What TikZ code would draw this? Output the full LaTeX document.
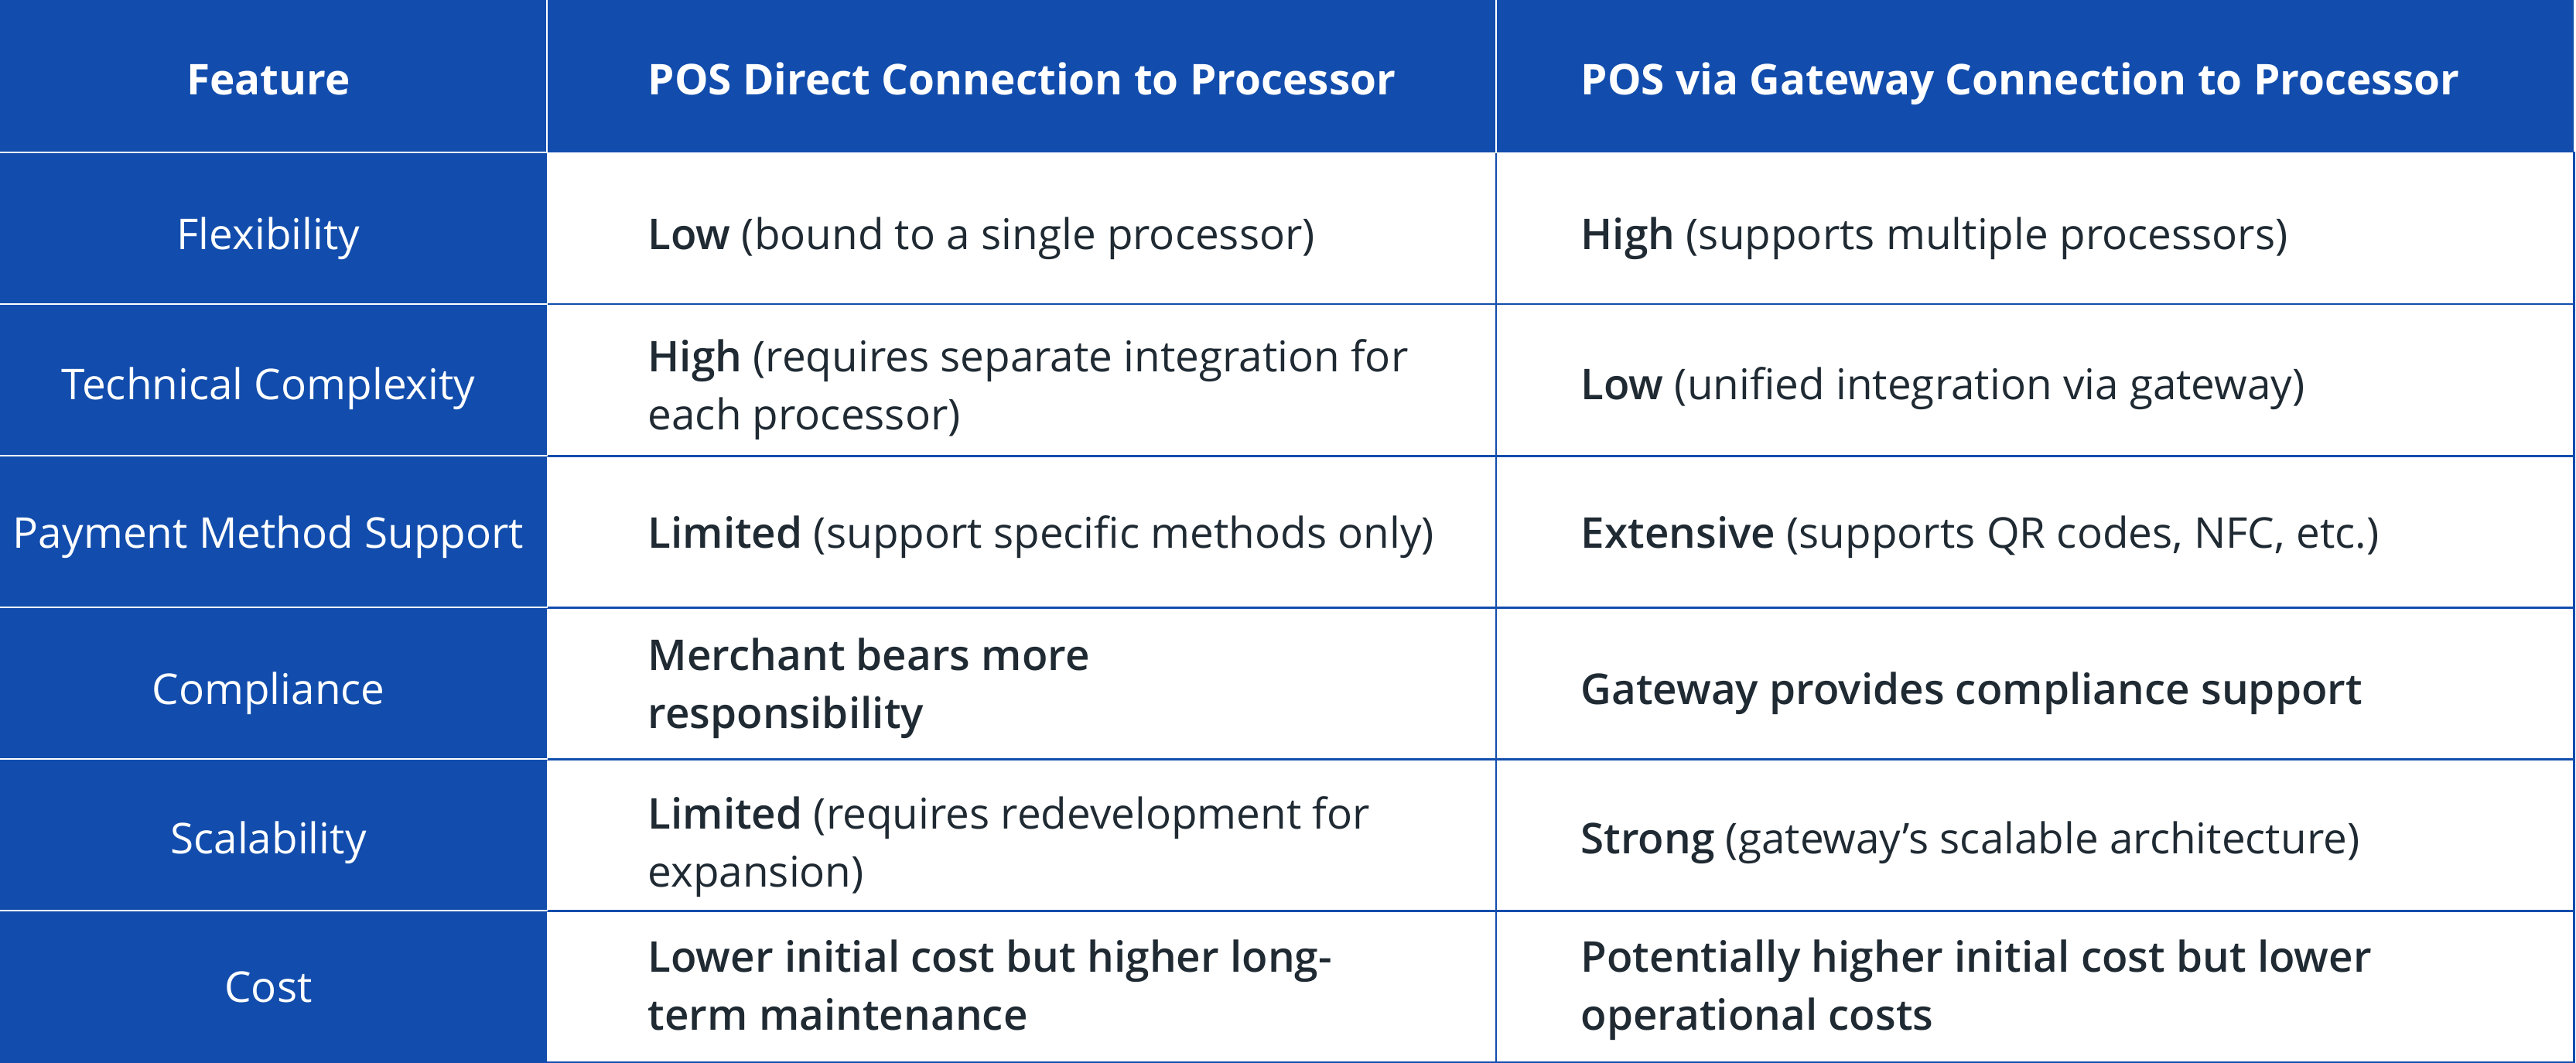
\documentclass[tikz,border=0pt]{standalone}
\usepackage{fontspec}
\setmainfont{Open Sans}
\newfontface\semiface{Open Sans Semibold}
\newcommand\semi[1]{{\semiface #1}}
\definecolor{tblblue}{HTML}{124DAD}
\definecolor{txtdark}{HTML}{1F2A33}
\newcommand\tblfont{\fontsize{15.6}{21.3}\selectfont}
\tikzset{
  headtxt/.style={text=white,font=\tblfont\bfseries,inner sep=0pt,anchor=base west},
  feattxt/.style={text=white,font=\tblfont,inner sep=0pt,anchor=base},
  celltxt/.style={text=txtdark,font=\tblfont,inner sep=0pt,anchor=base west,align=left},
}
\begin{document}
\begin{tikzpicture}[line cap=rect]
	\def\W{33.27} \def\H{13.74}
	\def\hh{1.97} \def\rh{1.96}
	\def\ca{7.07} \def\cb{19.34}
	\def\xa{8.37} \def\xb{20.43}
	\useasboundingbox (0,0) rectangle (33.3,-\H);
	% header band and feature column
	\fill[tblblue] (0,0) rectangle (\W,-\hh);
	\fill[tblblue] (0,0) rectangle (\ca,-\H);
	% row rules
	\foreach \k in {1,...,6}
		\draw[tblblue,line width=0.85pt] (\ca,{-\hh-\k*\rh}) -- (\W,{-\hh-\k*\rh});
	\foreach \k in {0,...,5}
		\draw[white,line width=0.6pt] (0,{-\hh-\k*\rh}) -- (\ca,{-\hh-\k*\rh});
	\draw[tblblue,line width=0.5pt] (\cb,-\hh) -- (\cb,-\H);
	\draw[tblblue,line width=0.85pt] (\W,-\hh) -- (\W,-\H);
	\draw[white,line width=0.4pt] (\ca,0) -- (\ca,-\hh);
	\draw[white,line width=0.4pt] (\cb,0) -- (\cb,-\hh);
	% header
	\node[headtxt,anchor=base] (hfeat) at (3.47,-1.22) {Feature};
	\node[headtxt] (hdirect) at (\xa,-1.22) {POS Direct Connection to Processor};
	\node[headtxt] (hgate) at (\xb,-1.22) {POS via Gateway Connection to Processor};
	% feature names
	\foreach \i/\y/\feat in {1/3.22/Flexibility,2/5.16/Technical Complexity,3/7.08/Payment Method Support,4/9.10/Compliance,5/11.03/Scalability,6/12.95/Cost}
		\node[feattxt] (feat\i) at (3.47,-\y) {\feat};
	% direct connection (base = last line)
	\node[celltxt] (dflex) at (\xa,-3.22) {\semi{Low} (bound to a single processor)};
	\node[celltxt] (dtech) at (\xa,-5.55) {\semi{High} (requires separate integration for\\each processor)};
	\node[celltxt] (dpay) at (\xa,-7.08) {\semi{Limited} (support specific methods only)};
	\node[celltxt] (dcomp) at (\xa,-9.41) {\semi{Merchant bears more}\\\semi{responsibility}};
	\node[celltxt] (dscal) at (\xa,-11.46) {\semi{Limited} (requires redevelopment for\\expansion)};
	\node[celltxt] (dcost) at (\xa,-13.31) {\semi{Lower initial cost but higher long-}\\\semi{term maintenance}};
	% gateway connection
	\node[celltxt] (gflex) at (\xb,-3.22) {\semi{High} (supports multiple processors)};
	\node[celltxt] (gtech) at (\xb,-5.16) {\semi{Low} (unified integration via gateway)};
	\node[celltxt] (gpay) at (\xb,-7.08) {\semi{Extensive} (supports QR codes, NFC, etc.)};
	\node[celltxt] (gcomp) at (\xb,-9.10) {\semi{Gateway provides compliance support}};
	\node[celltxt] (gscal) at (\xb,-11.03) {\semi{Strong} (gateway’s scalable architecture)};
	\node[celltxt] (gcost) at (\xb,-13.31) {\semi{Potentially higher initial cost but lower}\\\semi{operational costs}};
\end{tikzpicture}
\end{document}
